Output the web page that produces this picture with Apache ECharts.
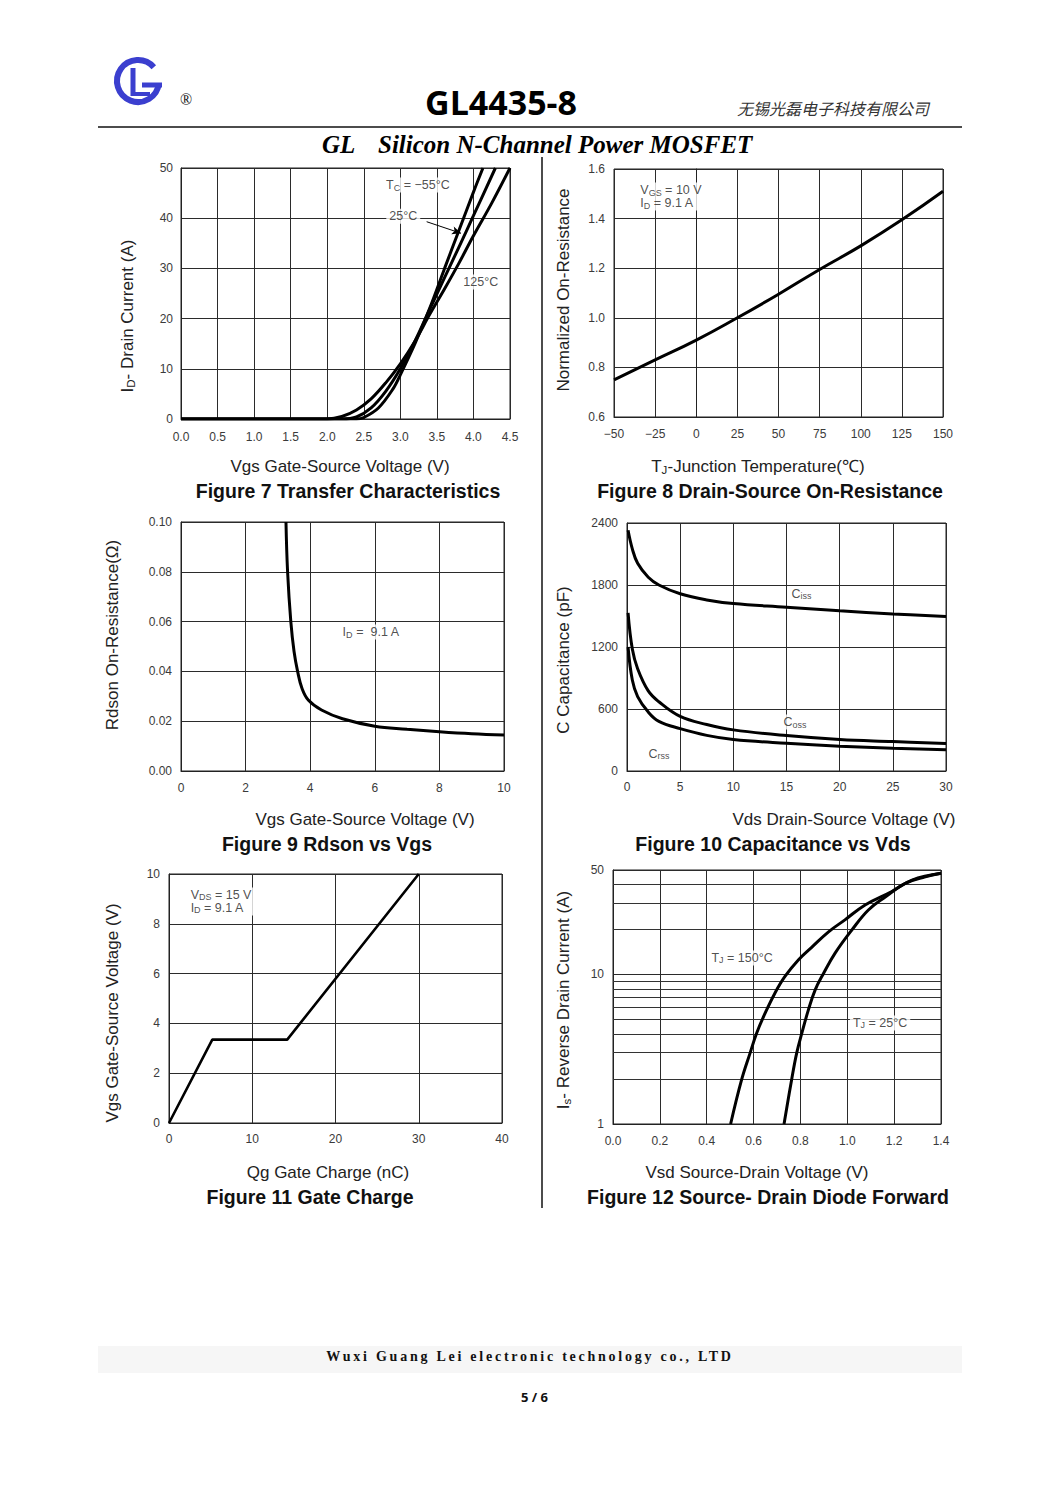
<!DOCTYPE html>
<html><head><meta charset="utf-8">
<script src="https://cdn.jsdelivr.net/npm/echarts@6/dist/echarts.min.js"></script>
<style>
html,body{margin:0;padding:0;background:#fff}
#page{position:relative;width:1061px;height:1500px;overflow:hidden}
#chart{position:absolute;left:0;top:0;width:1061px;height:1500px}
#foot{position:absolute;left:98px;top:1346px;width:864px;height:27px;background:#f6f6f6;font:bold 14px 'Liberation Serif','Times New Roman',serif;letter-spacing:2.75px;text-align:center;line-height:21px;color:#111}
#pg{position:absolute;left:4px;width:1061px;top:1388px;text-align:center;font:bold 13px 'Open Sans',sans-serif;color:#111}
</style></head>
<body><div id="page"><div id="chart"></div>
<div id="foot">Wuxi Guang Lei electronic technology co., LTD</div>
<div id="pg">5 / 6</div></div>
<script>
// ---------- DATA ----------
// Figure 7: Transfer characteristics  [Vgs (V), Id (A)]
const fig7_m55 = [[0,0],[2.4,0],[2.5,0.3],[2.7,2.2],[2.9,6],[3.0,8.8],[3.2,15],[3.4,22],[3.6,29.8],[3.8,37.5],[4.0,45.2],[4.13,50]];
const fig7_25  = [[0,0],[2.2,0],[2.4,0.4],[2.6,2.2],[2.8,5.5],[3.0,10],[3.2,15.5],[3.4,21.8],[3.6,28],[3.8,34.2],[4.0,40.5],[4.3,50]];
const fig7_125 = [[0,0],[2.0,0],[2.2,0.5],[2.4,1.8],[2.6,4],[2.8,7.2],[3.0,11],[3.2,15.5],[3.4,20.8],[3.6,25.8],[3.8,31],[4.0,36.5],[4.25,43],[4.5,50]];
// Figure 8: Normalized on-resistance vs Tj  [Tj (°C), Rnorm]
const fig8_tj   = [-50,-25,0,25,50,75,100,125,150];
const fig8_rnorm= [0.75,0.83,0.91,1.0,1.095,1.195,1.29,1.395,1.51];
// Figure 9: Rdson vs Vgs  [Vgs (V), Rdson (ohm)]
const fig9_rdson = [[3.25,0.1],[3.3,0.08],[3.4,0.06],[3.5,0.048],[3.61,0.04],[3.75,0.033],[3.94,0.0285],[4.35,0.0245],[5,0.021],[6,0.018],[7,0.0168],[8,0.0158],[9,0.015],[10,0.0145]];
// Figure 10: Capacitance vs Vds  [Vds (V), C (pF)]
const fig10_ciss = [[0.1,2330],[0.5,2150],[1,2010],[2,1875],[3,1800],[5,1715],[7.5,1655],[10,1620],[15,1585],[20,1550],[25,1520],[30,1495]];
const fig10_coss = [[0.1,1530],[0.5,1180],[1,990],[2,775],[3,670],[5,528],[7.5,450],[10,398],[15,343],[20,305],[25,285],[30,265]];
const fig10_crss = [[0.1,1200],[0.5,880],[1,720],[2,570],[3,480],[5,410],[7.5,345],[10,305],[15,268],[20,240],[25,220],[30,205]];
// Figure 11: Gate charge  [Qg (nC), Vgs (V)]
const fig11_qg = [[0,0],[5.2,3.35],[14.2,3.35],[30,10]];
// Figure 12: Source-drain diode forward  [Vsd (V), Is (A)]
const fig12_150 = [[0.502,1],[0.549,1.98],[0.585,2.98],[0.613,4.05],[0.649,5.5],[0.691,7.5],[0.734,9.7],[0.791,12.5],[0.848,15.2],[0.92,19.3],[0.99,23.2],[1.076,29.2],[1.19,35.9],[1.276,42.8],[1.4,47.5]];
const fig12_25  = [[0.73,1],[0.763,2],[0.784,2.98],[0.806,4.05],[0.834,5.8],[0.863,7.9],[0.899,10.2],[0.948,13.9],[1.019,19.8],[1.09,27],[1.162,33],[1.248,40.7],[1.333,45],[1.4,47.5]];
const fig12_minorGrid = [2,3,4,5,6,7,8,9,20,30,40];
const fig12_yLabels = [1,10,50];

// ---------- STYLE ----------
const F = "'Liberation Sans', Arial, Helvetica, sans-serif";
const GRID_COL = '#2b2b2b';
const LBL_COL = '#3a3a3a';
const R = {
  n:{fontSize:12.5,color:'#222',fontFamily:F,lineHeight:13},
  s:{fontSize:9,color:'#222',fontFamily:F,lineHeight:13,padding:[5,0,0,0]}
};

const grids = [
  {left:181,top:168,width:329,height:251},
  {left:614,top:169,width:329,height:248},
  {left:181,top:522,width:323,height:249},
  {left:627,top:523,width:319,height:248},
  {left:169,top:874,width:333,height:249},
  {left:613,top:870,width:328,height:254}
].map(g=>Object.assign({show:true,borderColor:'#222',borderWidth:1,backgroundColor:'#fff'},g));

function ax(gi,min,max,interval,fmt,margin){
  return {
    type:'value',gridIndex:gi,min,max,interval,
    axisLine:{show:true,lineStyle:{color:'#222',width:1}},
    axisTick:{show:false},
    splitLine:{show:true,lineStyle:{color:GRID_COL,width:1}},
    axisLabel:{color:LBL_COL,fontSize:12,fontFamily:F,margin:margin,formatter:fmt}
  };
}
const f1 = v=>v.toFixed(1), f2=v=>v.toFixed(2), f0=v=>String(v);
const xAxis = [
  ax(0,0,4.5,0.5,f1,12),
  ax(1,-50,150,25,v=>String(v).replace('-','\u2212'),11),
  ax(2,0,10,2,f0,11),
  ax(3,0,30,5,f0,10),
  ax(4,0,40,10,f0,10),
  ax(5,0,1.4,0.2,f1,11)
];
const yAxis = [
  ax(0,0,50,10,f0,8),
  ax(1,0.6,1.6,0.2,f1,9),
  ax(2,0,0.1,0.02,f2,9),
  ax(3,0,2400,600,f0,9),
  ax(4,0,10,2,f0,9),
  {type:'log',logBase:10,gridIndex:5,min:1,max:50,
   axisLine:{show:true,lineStyle:{color:'#222',width:1}},
   axisTick:{show:false},
   splitLine:{show:true,lineStyle:{color:GRID_COL,width:1}},
   axisLabel:{color:LBL_COL,fontSize:12,fontFamily:F,margin:9,customValues:fig12_yLabels,formatter:f0}}
];

function curve(gi,data,smooth,extra){
  return Object.assign({type:'line',xAxisIndex:gi,yAxisIndex:gi,data,showSymbol:false,symbol:'none',
    smooth:smooth,silent:true,z:3,lineStyle:{color:'#000',width:3}},extra||{});
}
function ann(gi,items){
  return {type:'scatter',xAxisIndex:gi,yAxisIndex:gi,symbolSize:0,silent:true,z:10,
    data:items.map(it=>({value:[it.x,it.y],label:Object.assign({show:true,formatter:it.t,position:it.pos||'inside'},it.lab||{})})),
    label:{show:true,color:'#222',fontSize:12.5,fontFamily:F,backgroundColor:'#fff',padding:[1,3],rich:R}};
}

const series = [
  curve(0,fig7_m55,0.35,{markLine:{silent:true,symbol:['none','arrow'],symbolSize:[6,9],label:{show:false},
     lineStyle:{color:'#000',width:1,type:'solid'},data:[[{coord:[3.36,39.3]},{coord:[3.83,37.0]}]]}}),
  curve(0,fig7_25,0.35),
  curve(0,fig7_125,0.35),
  ann(0,[{x:3.24,y:46.6,t:'{n|T}{s|C}{n| = \u221255\u00B0C}'},
         {x:3.04,y:40.4,t:'{n|25\u00B0C}'},
         {x:4.10,y:27.3,t:'{n|125\u00B0C}'}]),
  curve(1,fig8_tj.map((t,i)=>[t,fig8_rnorm[i]]),0.5),
  ann(1,[{x:-34,y:1.489,t:'{n|V}{s|GS}{n| = 10 V}\n{n|I}{s|D}{n| = 9.1 A}',pos:'right',lab:{distance:-3,align:'left'}}]),
  curve(2,fig9_rdson,0.4),
  ann(2,[{x:5.88,y:0.0558,t:'{n|I}{s|D}{n| =  9.1 A}'}]),
  curve(3,fig10_ciss,0.4),
  curve(3,fig10_coss,0.4),
  curve(3,fig10_crss,0.4),
  ann(3,[{x:16.4,y:1713,t:'{n|C}{s|iss}'},{x:15.8,y:474,t:'{n|C}{s|oss}'},{x:3.0,y:165,t:'{n|C}{s|rss}'}]),
  curve(4,fig11_qg,false,{lineStyle:{color:'#000',width:2.6}}),
  ann(4,[{x:2.6,y:8.9,t:'{n|V}{s|DS}{n| = 15 V}\n{n|I}{s|D}{n| = 9.1 A}',pos:'right',lab:{distance:-3,align:'left'}}]),
  curve(5,fig12_150,0.4,{markLine:{silent:true,symbol:'none',label:{show:false},z:1,
     lineStyle:{color:'#333',width:1,type:'solid'},data:fig12_minorGrid.map(v=>({yAxis:v}))}}),
  curve(5,fig12_25,0.4),
  ann(5,[{x:0.551,y:12.9,t:'{n|T}{s|J}{n| = 150\u00B0C}'},{x:1.14,y:4.74,t:'{n|T}{s|J}{n| = 25\u00B0C}'}])
];

// ---------- TEXT / DECOR ----------
const RS = {n:{fontSize:17,fontFamily:F,fill:'#222'},s:{fontSize:11.5,fontFamily:F,fill:'#222',padding:[7,0,0,0]}};
function T(x,y,text,o){
  o=o||{};
  return {type:'text',x,y,rotation:o.rot||0,z:50,silent:true,
    style:Object.assign({text,fill:'#222',fontSize:17,fontFamily:F,align:'center',verticalAlign:'middle',rich:RS},o.st||{})};
}
const cap = {fontSize:19.5,fontWeight:'bold',fill:'#111'};
const ROT = Math.PI/2;
const blue = '#3b3fcf';
const graphic = [
  // logo
  {type:'arc',z:50,shape:{cx:138,cy:81,r:21,startAngle:0.12,endAngle:2*Math.PI-0.72,clockwise:true},style:{stroke:blue,lineWidth:6,fill:null}},
  {type:'line',z:50,shape:{x1:142,y1:85,x2:162,y2:85},style:{stroke:blue,lineWidth:5}},
  {type:'line',z:50,shape:{x1:133,y1:68,x2:133,y2:96},style:{stroke:blue,lineWidth:5}},
  {type:'line',z:50,shape:{x1:131,y1:94,x2:150,y2:94},style:{stroke:blue,lineWidth:4}},
  T(186,99,'\u00AE',{st:{fontSize:16,fontFamily:"'Liberation Serif',serif",fill:'#111'}}),
  T(501,102,'GL4435-8',{st:{fontSize:34,fontWeight:'bold',fontFamily:"'Open Sans',sans-serif",fill:'#000'}}),
  T(833,108,'无锡光磊电子科技有限公司',{st:{fontSize:16,fontStyle:'italic',fontFamily:"'Noto Sans CJK SC',sans-serif",fill:'#333'}}),
  {type:'line',z:50,shape:{x1:98,y1:127,x2:962,y2:127},style:{stroke:'#111',lineWidth:1.5}},
  T(322,144,'GL',{st:{align:'left',fontSize:25,fontWeight:'bold',fontStyle:'italic',fontFamily:"'Liberation Serif','Times New Roman',serif",fill:'#000'}}),
  T(378,144,'Silicon N-Channel Power MOSFET',{st:{align:'left',fontSize:25,fontWeight:'bold',fontStyle:'italic',fontFamily:"'Liberation Serif','Times New Roman',serif",fill:'#000'}}),
  {type:'line',z:50,shape:{x1:542,y1:157,x2:542,y2:1208},style:{stroke:'#111',lineWidth:1.5}},
  // axis names
  T(127,316,'{n|I}{s|D}{n|- Drain Current (A)}',{rot:ROT}),
  T(340,466,'Vgs Gate-Source Voltage (V)'),
  T(348,491,'Figure 7 Transfer Characteristics',{st:cap}),
  T(563,290,'Normalized On-Resistance',{rot:ROT}),
  T(758,466,'{n|T}{s|J}{n|-Junction Temperature(\u2103)}'),
  T(770,491,'Figure 8 Drain-Source On-Resistance',{st:cap}),
  T(112,635,'Rdson On-Resistance(\u03A9)',{rot:ROT}),
  T(365,819,'Vgs Gate-Source Voltage (V)'),
  T(327,844,'Figure 9 Rdson vs Vgs',{st:cap}),
  T(563,660,'C Capacitance (pF)',{rot:ROT}),
  T(844,819,'Vds Drain-Source Voltage (V)'),
  T(773,844,'Figure 10 Capacitance vs Vds',{st:cap}),
  T(112,1013,'Vgs Gate-Source Voltage (V)',{rot:ROT}),
  T(328,1172,'Qg Gate Charge (nC)'),
  T(310,1197,'Figure 11 Gate Charge',{st:cap}),
  T(563,1000,'{n|I}{s|s}{n|- Reverse Drain Current (A)}',{rot:ROT}),
  T(757,1172,'Vsd Source-Drain Voltage (V)'),
  T(768,1197,'Figure 12 Source- Drain Diode Forward',{st:cap})
];

const chart = echarts.init(document.getElementById('chart'),null,{renderer:'svg',width:1061,height:1500});
chart.setOption({animation:false,backgroundColor:'transparent',grid:grids,xAxis,yAxis,series,graphic});
</script></body></html>
